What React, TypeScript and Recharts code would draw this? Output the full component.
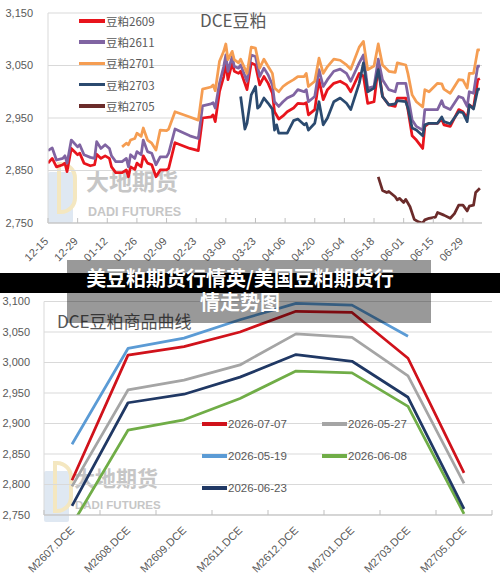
import React from 'react';
import { LineChart, Line, XAxis, YAxis, CartesianGrid } from 'recharts';

const FONT = '"Liberation Sans", "Noto Sans CJK SC", sans-serif';
const CJK = '"Noto Sans CJK SC", "Liberation Sans", sans-serif';
const TXT = '#595959';

// ---------- top chart: DCE soybean meal futures (days since 2025-12-15) ----------
const dateTickDays = [0, 14, 28, 42, 56, 70, 84, 98, 112, 126, 140, 154, 168, 182, 196];
const dateTickLabels = ['12-15', '12-29', '01-12', '01-26', '02-09', '02-23', '03-09', '03-23', '04-06', '04-20', '05-04', '05-18', '06-01', '06-15', '06-29'];
const topPriceTicks = [2750, 2850, 2950, 3050, 3150];

const m2609: [number, number][] = [
  [0, 2864], [2, 2873], [4, 2857], [7, 2861], [8, 2864], [9, 2848], [11, 2892], [14, 2880], [15, 2883], [17, 2864],
  [20, 2859], [22, 2861], [23, 2881], [25, 2873], [27, 2878], [29, 2873], [30, 2857], [32, 2846], [35, 2846], [37, 2851],
  [38, 2838], [39, 2857], [41, 2852], [42, 2864], [44, 2857], [45, 2878], [47, 2864], [49, 2861], [51, 2838], [53, 2851],
  [56, 2851], [57, 2854], [60, 2903], [67, 2892], [71, 2888], [73, 2950], [77, 2952], [78, 2956], [79, 2943], [81, 3000],
  [83, 3029], [84, 3055], [85, 3023], [87, 3055], [88, 3039], [90, 3035], [91, 3039], [94, 3004], [96, 3055], [98, 3051],
  [100, 3013], [102, 3029], [104, 3016], [106, 2997], [107, 2962], [109, 2948], [111, 2954], [113, 2962], [116, 2969], [118, 2978],
  [121, 2977], [122, 2979], [123, 2956], [126, 2966], [128, 3023], [130, 2985], [132, 3004], [135, 3016], [138, 3020], [141, 3013],
  [143, 3000], [147, 3035], [149, 3030], [151, 2978], [154, 2981], [156, 3048], [158, 2991], [161, 2975], [164, 2972], [165, 2988],
  [169, 2988], [170, 2966], [172, 2916], [174, 2908], [177, 2892], [178, 2934], [180, 2940], [184, 2940], [186, 2948], [187, 2937],
  [190, 2934], [194, 2966], [196, 2962], [198, 2950], [199, 2975], [201, 2969], [203, 3023], [204, 3025],
];

const m2611: [number, number][] = [
  [0, 2888], [2, 2893], [4, 2870], [7, 2873], [8, 2878], [9, 2864], [11, 2908], [14, 2895], [15, 2899], [17, 2880],
  [20, 2875], [22, 2873], [23, 2905], [25, 2892], [27, 2899], [29, 2892], [30, 2878], [32, 2867], [35, 2867], [37, 2873],
  [38, 2857], [39, 2880], [41, 2873], [42, 2886], [44, 2880], [45, 2908], [47, 2886], [49, 2883], [51, 2861], [53, 2876],
  [56, 2876], [57, 2883], [60, 2929], [67, 2916], [71, 2911], [73, 2973], [77, 2977], [78, 2979], [79, 2969], [81, 3016],
  [83, 3048], [84, 3070], [85, 3039], [87, 3067], [88, 3048], [90, 3045], [91, 3051], [94, 3020], [96, 3070], [98, 3067],
  [100, 3029], [102, 3045], [104, 3032], [106, 3013], [107, 2981], [109, 2972], [111, 2981], [113, 2988], [116, 2994], [118, 3004],
  [121, 3000], [122, 3004], [123, 2981], [126, 2991], [128, 3042], [130, 3010], [132, 3023], [135, 3039], [138, 3043], [141, 3035],
  [143, 3020], [147, 3055], [149, 3070], [151, 3007], [154, 3010], [156, 3062], [158, 3023], [161, 3004], [164, 3000], [165, 3016],
  [169, 3016], [170, 2994], [172, 2946], [174, 2934], [177, 2927], [178, 2966], [180, 2966], [184, 2966], [186, 2983], [187, 2972],
  [190, 2966], [194, 2991], [196, 2988], [198, 2972], [199, 3000], [201, 2997], [203, 3049], [204, 3049],
];

const m2701: [number, number][] = [
  [35, 2895], [37, 2902], [38, 2899], [39, 2908], [41, 2911], [42, 2921], [44, 2915], [45, 2931], [47, 2908], [49, 2902],
  [51, 2889], [53, 2927], [56, 2926], [57, 2929], [60, 2962], [67, 2952], [71, 2946], [73, 3005], [77, 3009], [78, 3013],
  [79, 3002], [81, 3058], [83, 3077], [84, 3091], [85, 3061], [87, 3077], [88, 3061], [90, 3055], [91, 3062], [94, 3035],
  [96, 3085], [98, 3083], [100, 3045], [102, 3062], [104, 3048], [106, 3035], [107, 3007], [109, 3000], [111, 3010], [113, 3016],
  [116, 3023], [118, 3029], [121, 3029], [122, 3035], [123, 3010], [126, 3020], [128, 3064], [130, 3035], [132, 3048], [135, 3062],
  [138, 3060], [141, 3051], [143, 3043], [147, 3085], [149, 3096], [151, 3042], [154, 3049], [156, 3091], [158, 3051], [161, 3039],
  [164, 3037], [165, 3055], [169, 3051], [170, 3035], [172, 2994], [174, 2981], [177, 2971], [178, 3004], [180, 3000], [184, 3016],
  [186, 3015], [187, 3005], [190, 2997], [194, 3023], [196, 3022], [198, 3007], [199, 3035], [201, 3035], [203, 3080], [204, 3080],
];

const m2703: [number, number][] = [
  [91, 2991], [93, 2929], [94, 2940], [96, 2994], [98, 3010], [99, 2969], [100, 2972], [102, 2988], [104, 2978], [106, 2967],
  [107, 2927], [108, 2937], [109, 2921], [111, 2921], [113, 2921], [116, 2945], [118, 2948], [121, 2937], [122, 2940], [123, 2927],
  [126, 2940], [128, 2981], [130, 2937], [132, 2950], [135, 2981], [138, 2988], [141, 2978], [143, 2966], [147, 3016], [149, 3055],
  [151, 3000], [154, 3007], [156, 3042], [158, 2991], [161, 2975], [164, 2977], [165, 2983], [169, 2981], [170, 2969], [172, 2931],
  [174, 2927], [177, 2916], [178, 2937], [180, 2940], [184, 2940], [186, 2952], [187, 2943], [190, 2939], [194, 2962], [196, 2960],
  [198, 2943], [199, 2975], [201, 2967], [203, 3005], [204, 3005],
];

const m2705: [number, number][] = [
  [156, 2838], [158, 2812], [160, 2808], [161, 2810], [164, 2800], [165, 2794], [166, 2797], [168, 2789], [169, 2795], [171, 2781],
  [173, 2757], [175, 2752], [177, 2750], [178, 2756], [180, 2759], [183, 2761], [184, 2770], [187, 2765], [190, 2759], [192, 2768],
  [194, 2784], [196, 2784], [198, 2773], [199, 2782], [201, 2784], [202, 2808], [204, 2816],
];

const topSeries = [
  { name: '豆粕2609', color: '#e8141c', points: m2609 },
  { name: '豆粕2611', color: '#8064a2', points: m2611 },
  { name: '豆粕2701', color: '#f59d52', points: m2701 },
  { name: '豆粕2703', color: '#2b4a6f', points: m2703 },
  { name: '豆粕2705', color: '#6b2b2a', points: m2705 },
];

// ---------- bottom chart: DCE soybean meal forward curve ----------
const contracts = ['M2607.DCE', 'M2608.DCE', 'M2609.DCE', 'M2611.DCE', 'M2612.DCE', 'M2701.DCE', 'M2703.DCE', 'M2705.DCE'];
const curve0707 = [2807, 3012, 3026, 3050, 3084, 3082, 3007, 2819];
const curve0527 = [2797, 2955, 2971, 2996, 3047, 3041, 2978, 2802];
const curve0519 = [2866, 3023, 3040, 3070, 3097, 3094, 3043, null];
const curve0608 = [2734, 2889, 2906, 2941, 2986, 2983, 2928, 2752];
const curve0623 = [2765, 2934, 2948, 2976, 3013, 3002, 2943, 2760];
const curvePriceTicks = [2750, 2800, 2850, 2900, 2950, 3000, 3050, 3100];

const curveSeries = [
  { key: 'c0707', name: '2026-07-07', color: '#d0121b', values: curve0707 },
  { key: 'c0527', name: '2026-05-27', color: '#a5a5a5', values: curve0527 },
  { key: 'c0519', name: '2026-05-19', color: '#5b9bd5', values: curve0519 },
  { key: 'c0608', name: '2026-06-08', color: '#70ad47', values: curve0608 },
  { key: 'c0623', name: '2026-06-23', color: '#203864', values: curve0623 },
];

const curveRows = contracts.map((c, i) => {
  const row: any = { i, c };
  curveSeries.forEach((s) => { row[s.key] = s.values[i]; });
  return row;
});

const fmt = (v: number) => v.toLocaleString('en-US');

// layout constants
const TOP_H = 275;
const BOT_TOP = 285;
const BOT_H = 298;
const BOT_LEFT = 44;
const BOT_RIGHT_MARGIN = 8;
const BAND_HALF = (500 - BOT_LEFT - BOT_RIGHT_MARGIN) / contracts.length / 2;

const DateTick = (props: any) => {
  const { x, y, payload } = props;
  const idx = dateTickDays.indexOf(payload.value);
  const ax = x + 1;
  const ay = y + 19;
  return (
    <g>
      <line x1={x} y1={y - 5} x2={x} y2={y} stroke="#bfbfbf" />
      <text x={ax} y={ay} transform={`rotate(-45 ${ax} ${ay})`} textAnchor="end" fill={TXT} fontSize={11} fontFamily={FONT}>
        {dateTickLabels[idx]}
      </text>
    </g>
  );
};

const ContractTick = (props: any) => {
  const { x, y, payload } = props;
  const idx = payload.value as number;
  const ax = x + 3;
  const ay = y + 16;
  return (
    <g>
      <line x1={x - BAND_HALF} y1={y - 5} x2={x - BAND_HALF} y2={y} stroke="#bfbfbf" />
      {idx === contracts.length - 1 && <line x1={x + BAND_HALF} y1={y - 5} x2={x + BAND_HALF} y2={y} stroke="#bfbfbf" />}
      <text x={ax} y={ay} transform={`rotate(-45 ${ax} ${ay})`} textAnchor="end" fill={TXT} fontSize={11} fontFamily={FONT}>
        {contracts[idx]}
      </text>
    </g>
  );
};

const abs = (l: number, t: number, extra: any = {}) => ({ position: 'absolute' as const, left: l, top: t, ...extra });

const Logo = ({ l, t, s }: { l: number; t: number; s: number }) => (
  <>
    <div style={abs(l, t + 10 * s, { width: 25 * s, height: 51 * s, background: '#dfe8f2', borderRadius: `${2 * s}px` })} />
    <div style={abs(l + 9 * s, t, { width: 20 * s, height: 52 * s, border: `${4 * s}px solid #f4e7c0`, borderRadius: `0 ${16 * s}px ${16 * s}px 0`, boxSizing: 'border-box' })} />
  </>
);

export default function App() {
  return (
    <div style={abs(0, 0, { width: 500, height: 583, background: '#fff', overflow: 'hidden', fontFamily: FONT })}>
      {/* watermarks */}
      <Logo l={48} t={162} s={1} />
      <div style={abs(86, 165, { fontFamily: CJK, fontWeight: 700, fontSize: 23, lineHeight: '30px', color: '#c6c6c6', letterSpacing: 0 })}>大地期货</div>
      <div style={abs(88, 204, { fontFamily: FONT, fontWeight: 700, fontSize: 12.5, lineHeight: '16px', color: '#c6c6c6' })}>DADI FUTURES</div>
      <Logo l={44} t={461} s={1} />
      <div style={abs(74, 462, { fontFamily: CJK, fontWeight: 700, fontSize: 21, lineHeight: '30px', color: '#c6c6c6' })}>大地期货</div>
      <div style={abs(75, 498, { fontFamily: FONT, fontWeight: 700, fontSize: 11.5, lineHeight: '15px', color: '#c6c6c6' })}>DADI FUTURES</div>

      {/* top chart */}
      <div style={abs(0, 0)}>
        <LineChart width={500} height={TOP_H} margin={{ top: 13, right: 18, left: 0, bottom: 0 }}>
          <CartesianGrid vertical={false} stroke="#d9d9d9" />
          <XAxis
            type="number"
            dataKey="day"
            domain={[0, 205]}
            ticks={dateTickDays}
            interval={0}
            tickSize={0}
            tickMargin={0}
            height={TOP_H - 223}
            axisLine={{ stroke: '#bfbfbf' }}
            tick={DateTick}
            allowDataOverflow
          />
          <YAxis
            type="number"
            domain={[2750, 3150]}
            ticks={topPriceTicks}
            width={48}
            tickLine={false}
            tickSize={0}
            tickMargin={15}
            axisLine={{ stroke: '#d9d9d9' }}
            tick={{ fill: TXT, fontSize: 11, fontFamily: FONT }}
            tickFormatter={fmt}
            allowDataOverflow
          />
          {topSeries.map((s) => (
            <Line
              key={s.name}
              data={s.points.map(([day, v]) => ({ day, v }))}
              dataKey="v"
              name={s.name}
              stroke={s.color}
              strokeWidth={2.75}
              strokeLinejoin="round"
              dot={false}
              activeDot={false}
              isAnimationActive={false}
            />
          ))}
        </LineChart>
      </div>
      <div style={abs(200, 8, { fontFamily: CJK, fontSize: 17, lineHeight: '24px', color: TXT })}>DCE豆粕</div>
      {topSeries.map((s, i) => (
        <div key={s.name} style={abs(79, 13 + i * 21.2, { height: 16, display: 'flex', alignItems: 'center' })}>
          <div style={{ width: 26, height: 3.5, background: s.color }} />
          <div style={{ marginLeft: 1, fontSize: 11.5, color: TXT, fontFamily: CJK, whiteSpace: 'nowrap' }}>{s.name}</div>
        </div>
      ))}

      {/* bottom chart */}
      <div style={abs(0, BOT_TOP)}>
        <LineChart width={500} height={BOT_H} data={curveRows} margin={{ top: 16.5, right: BOT_RIGHT_MARGIN, left: 0, bottom: 0 }}>
          <CartesianGrid vertical={false} stroke="#d9d9d9" />
          <XAxis
            type="number"
            dataKey="i"
            domain={[-0.5, contracts.length - 0.5]}
            ticks={contracts.map((_, i) => i)}
            interval={0}
            tickSize={0}
            tickMargin={0}
            height={68}
            axisLine={{ stroke: '#bfbfbf' }}
            tick={ContractTick}
            allowDataOverflow
          />
          <YAxis
            type="number"
            domain={[2750, 3100]}
            ticks={curvePriceTicks}
            width={BOT_LEFT}
            tickLine={false}
            tickSize={0}
            tickMargin={14}
            axisLine={{ stroke: '#d9d9d9' }}
            tick={{ fill: TXT, fontSize: 11, fontFamily: FONT }}
            tickFormatter={fmt}
            allowDataOverflow
          />
          {curveSeries.map((s) => (
            <Line
              key={s.key}
              dataKey={s.key}
              name={s.name}
              stroke={s.color}
              strokeWidth={2.75}
              strokeLinejoin="round"
              dot={false}
              activeDot={false}
              isAnimationActive={false}
            />
          ))}
        </LineChart>
      </div>
      <div style={abs(57, 309, { fontFamily: CJK, fontSize: 17, lineHeight: '24px', color: TXT })}>DCE豆粕商品曲线</div>
      {curveSeries.map((s, i) => (
        <div key={s.key} style={abs(202 + (i % 2) * 120, 416 + Math.floor(i / 2) * 32, { height: 16, display: 'flex', alignItems: 'center' })}>
          <div style={{ width: 25, height: 3.5, background: s.color }} />
          <div style={{ marginLeft: 1, fontSize: 11.5, color: TXT, fontFamily: FONT, whiteSpace: 'nowrap' }}>{s.name}</div>
        </div>
      ))}

      {/* title banner */}
      <div style={abs(67, 260, { width: 364, height: 63, background: 'rgba(0,0,0,0.4)' })} />
      <div style={abs(0, 273, { width: 500, height: 20, background: '#000' })} />
      <div style={abs(0, 266, { width: 480, textAlign: 'center', fontFamily: CJK, fontWeight: 700, fontSize: 20, lineHeight: '24px', color: '#fff', whiteSpace: 'nowrap' })}>
        美豆粕期货行情英/美国豆粕期货行
        <br />
        情走势图
      </div>
    </div>
  );
}
